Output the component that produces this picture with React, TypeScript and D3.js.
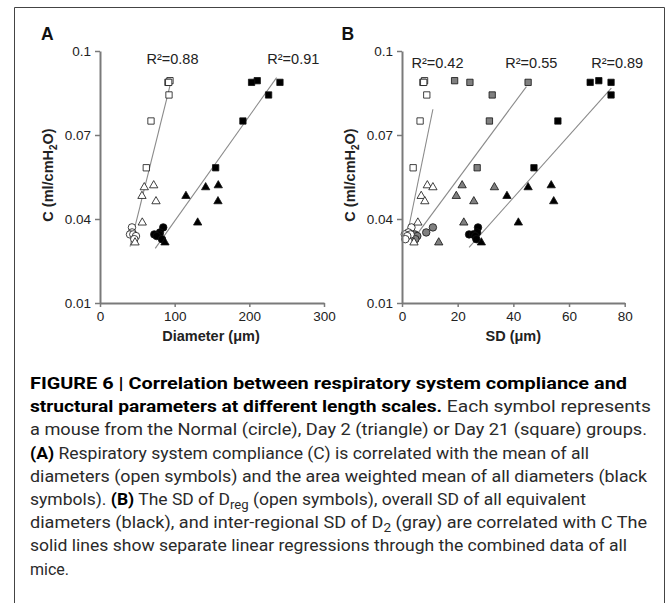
import { useEffect, useRef } from 'react';
import * as d3 from 'd3';

// compliance C (ml/cmH2O) per mouse, one array per group
const cNormal = [0.0370, 0.0352, 0.0345, 0.0345, 0.0339, 0.0328];
const cDay2 = [0.0520, 0.0513, 0.0482, 0.0463, 0.0387, 0.0316];
const cDay21 = [0.0894, 0.0888, 0.0888, 0.0843, 0.0750, 0.0583];

// panel A: mean of all diameters (open) and area weighted mean (black), um
const meanDiamNormal = [42.8, 43.0, 40.2, 44.6, 48.2, 45.9];
const meanDiamDay2 = [71.9, 59.3, 56.2, 75.0, 56.6, 46.9];
const meanDiamDay21 = [93.7, 91.0, 92.0, 92.4, 68.3, 62.0];
const wMeanDiamNormal = [84.7, 80.3, 72.7, 79.4, 76.0, 83.0];
const wMeanDiamDay2 = [158.4, 141.5, 115.1, 158.0, 130.8, 87.0];
const wMeanDiamDay21 = [210.6, 203.0, 241.0, 225.8, 191.4, 154.9];

// panel B: SD of Dreg (open), inter-regional SD of D2 (gray), overall SD (black), um
const sdRegNormal = [3.4, 2.3, 1.0, 3.1, 1.9, 1.2];
const sdRegDay2 = [9.1, 11.1, 6.9, 8.2, 5.7, 4.3];
const sdRegDay21 = [8.1, 7.5, 7.8, 8.9, 6.5, 4.0];
const sdD2Normal = [11.1, 8.7, 4.6, 2.8, 5.5, 4.8];
const sdD2Day2 = [21.6, 33.2, 19.5, 25.8, 22.2, 13.2];
const sdD2Day21 = [18.9, 24.4, 45.3, 32.4, 31.4, 27.0];
const sdAllNormal = [27.3, 27.0, 24.1, 25.5, 26.3, 26.7];
const sdAllDay2 = [53.6, 45.3, 37.7, 54.5, 41.8, 28.5];
const sdAllDay21 = [70.7, 67.6, 75.1, 75.1, 56.0, 47.4];

// regression line end points [x, C]
const fitAOpen = [[40.2, 0.0301], [96.4, 0.0905]];
const fitABlack = [[74, 0.0295], [236.5, 0.0905]];
const fitBOpen = [[1.5, 0.0325], [11.1, 0.0792]];
const fitBGray = [[5.5, 0.0347], [44.7, 0.0873]];
const fitBBlack = [[24.1, 0.0299], [75.2, 0.0867]];

const r2A = ['R²=0.88', 'R²=0.91'];
const r2B = ['R²=0.42', 'R²=0.55', 'R²=0.89'];

const yTicks = [0.01, 0.04, 0.07, 0.1];
const xTicksA = [0, 100, 200, 300];
const xTicksB = [0, 20, 40, 60, 80];

// caption lines: [text, style] segments; style b = bold, sub = subscript
const captionLines: Array<Array<[string, string]>> = [
  [['FIGURE 6 | Correlation between respiratory system compliance and', 'b']],
  [['structural parameters at different length scales.', 'b'], [' Each symbol represents', '']],
  [['a mouse from the Normal (circle), Day 2 (triangle) or Day 21 (square) groups.', '']],
  [['(A)', 'b'], [' Respiratory system compliance (C) is correlated with the mean of all', '']],
  [['diameters (open symbols) and the area weighted mean of all diameters (black', '']],
  [['symbols). ', ''], ['(B)', 'b'], [' The SD of D', ''], ['reg', 'sub'], [' (open symbols), overall SD of all equivalent', '']],
  [['diameters (black), and inter-regional SD of D', ''], ['2', 'sub'], [' (gray) are correlated with C The', '']],
  [['solid lines show separate linear regressions through the combined data of all', '']],
  [['mice.', '']],
];
const captionWidths = [597, 621, 617, 559, 617, 556, 617, 597, 0];

const symbolOf: Record<string, d3.SymbolType> = {
  circle: d3.symbolCircle,
  triangle: d3.symbolTriangle,
  square: d3.symbolSquare,
};
const sizeOf: Record<string, number> = { circle: 44, triangle: 30, square: 40 };

export default function App() {
  const svgRef = useRef<SVGSVGElement>(null);

  useEffect(() => {
    if (!svgRef.current) return;
    const svg = d3.select(svgRef.current);
    svg.selectAll('*').remove();

    // outer frame
    svg.append('path')
      .attr('d', 'M14.5,610 V7.5 H664.5 V610')
      .attr('fill', 'none')
      .attr('stroke', '#444')
      .attr('stroke-width', 1);

    const y = d3.scaleLinear().domain([0.01, 0.1]).range([303, 51]);

    const drawPanel = (
      xScale: d3.ScaleLinear<number, number>,
      xTicks: number[],
      xTitle: string,
      letter: string,
      letterX: number,
      titleX: number,
      series: Array<{ x: number[]; c: number[]; shape: string; fill: string }>,
      fits: number[][][],
      labels: string[],
      labelX: number[],
      labelY: number
    ) => {
      const g = svg.append('g');
      const x0 = xScale.range()[0];

      // fit lines
      const line = d3.line<number[]>().x(d => xScale(d[0])).y(d => y(d[1]));
      fits.forEach(f => {
        g.append('path')
          .attr('d', line(f))
          .attr('fill', 'none')
          .attr('stroke', '#8a8a8a')
          .attr('stroke-width', 1.1);
      });

      // points
      series.forEach(s => {
        g.selectAll(null)
          .data(s.x.map((v, i) => ({ v, c: s.c[i] })))
          .enter().append('path')
          .attr('d', d3.symbol().type(symbolOf[s.shape]).size(sizeOf[s.shape])())
          .attr('transform', d => `translate(${xScale(d.v)},${y(d.c)})`)
          .attr('fill', s.fill)
          .attr('stroke', '#111')
          .attr('stroke-width', 0.8);
      });

      // axes
      const yAxis = g.append('g')
        .attr('transform', `translate(${x0},0)`)
        .call(d3.axisLeft(y).tickValues(yTicks).tickFormat(d => String(d)).tickSize(5).tickSizeOuter(0));
      const xAxis = g.append('g')
        .attr('transform', `translate(0,${y(0.01)})`)
        .call(d3.axisBottom(xScale).tickValues(xTicks).tickFormat(d => String(d)).tickSize(4).tickSizeOuter(0));
      [yAxis, xAxis].forEach(a => {
        a.select('.domain').attr('stroke', '#7a7a7a').attr('stroke-width', 2);
        a.selectAll('.tick line').attr('stroke', '#7a7a7a').attr('stroke-width', 1.5);
        a.selectAll('.tick text')
          .attr('font-family', 'Liberation Sans, Arial, sans-serif')
          .attr('font-size', 13.5)
          .attr('fill', '#222');
      });
      yAxis.selectAll('.tick text').attr('x', -9);
      xAxis.selectAll('.tick text').attr('y', 8);

      // titles
      g.append('text')
        .attr('x', titleX)
        .attr('y', 341)
        .attr('text-anchor', 'middle')
        .attr('font-family', 'Liberation Sans, Arial, sans-serif')
        .attr('font-size', 14.5)
        .attr('font-weight', 'bold')
        .attr('fill', '#222')
        .text(xTitle);

      const yt = g.append('text')
        .attr('transform', `translate(${x0 - 47},175) rotate(-90)`)
        .attr('text-anchor', 'middle')
        .attr('font-family', 'Liberation Sans, Arial, sans-serif')
        .attr('font-size', 14.5)
        .attr('font-weight', 'bold')
        .attr('fill', '#222');
      yt.append('tspan').text('C (ml/cmH');
      yt.append('tspan').attr('font-size', 10).attr('dy', 4).text('2');
      yt.append('tspan').attr('dy', -4).text('O)');

      g.append('text')
        .attr('x', letterX)
        .attr('y', 39.5)
        .attr('font-family', 'Liberation Sans, Arial, sans-serif')
        .attr('font-size', 17.5)
        .attr('font-weight', 'bold')
        .attr('fill', '#111')
        .text(letter);

      labels.forEach((t, i) => {
        g.append('text')
          .attr('x', labelX[i])
          .attr('y', labelY)
          .attr('text-anchor', 'middle')
          .attr('font-family', 'Liberation Sans, Arial, sans-serif')
          .attr('font-size', 14.5)
          .attr('fill', '#222')
          .text(t);
      });
    };

    const xA = d3.scaleLinear().domain([0, 300]).range([100, 324]);
    drawPanel(
      xA, xTicksA, 'Diameter (μm)', 'A', 41, 211,
      [
        { x: meanDiamNormal, c: cNormal, shape: 'circle', fill: '#fff' },
        { x: meanDiamDay2, c: cDay2, shape: 'triangle', fill: '#fff' },
        { x: meanDiamDay21, c: cDay21, shape: 'square', fill: '#fff' },
        { x: wMeanDiamNormal, c: cNormal, shape: 'circle', fill: '#000' },
        { x: wMeanDiamDay2, c: cDay2, shape: 'triangle', fill: '#000' },
        { x: wMeanDiamDay21, c: cDay21, shape: 'square', fill: '#000' },
      ],
      [fitAOpen, fitABlack],
      r2A, [172.5, 293.3], 64
    );

    const xB = d3.scaleLinear().domain([0, 80]).range([402, 624.7]);
    drawPanel(
      xB, xTicksB, 'SD (μm)', 'B', 341.5, 513.3,
      [
        { x: sdAllNormal, c: cNormal, shape: 'circle', fill: '#000' },
        { x: sdAllDay2, c: cDay2, shape: 'triangle', fill: '#000' },
        { x: sdAllDay21, c: cDay21, shape: 'square', fill: '#000' },
        { x: sdD2Normal, c: cNormal, shape: 'circle', fill: '#808080' },
        { x: sdD2Day2, c: cDay2, shape: 'triangle', fill: '#808080' },
        { x: sdD2Day21, c: cDay21, shape: 'square', fill: '#808080' },
        { x: sdRegNormal, c: cNormal, shape: 'circle', fill: '#fff' },
        { x: sdRegDay2, c: cDay2, shape: 'triangle', fill: '#fff' },
        { x: sdRegDay21, c: cDay21, shape: 'square', fill: '#fff' },
      ],
      [fitBOpen, fitBGray, fitBBlack],
      r2B, [437.5, 531.3, 617.2], 68
    );

    // caption
    captionLines.forEach((segs, i) => {
      const t = svg.append('text')
        .attr('x', 30)
        .attr('y', 389 + i * 23.2)
        .attr('font-family', 'Liberation Sans Narrow, Roboto, Arial, sans-serif')
        .attr('font-size', 16)
        .attr('fill', '#2a2a2a');
      if (captionWidths[i] > 0) {
        t.attr('textLength', captionWidths[i]).attr('lengthAdjust', 'spacingAndGlyphs');
      }
      segs.forEach(([s, st], j) => {
        const sp = t.append('tspan').text(s);
        if (st === 'b') sp.attr('font-weight', 'bold').attr('fill', '#000');
        if (st === 'sub') sp.attr('font-size', 12).attr('dy', 4);
        if (j > 0 && segs[j - 1][1] === 'sub') sp.attr('dy', -4);
      });
    });
  }, []);

  return (
    <svg
      ref={svgRef}
      width={671}
      height={603}
      style={{ position: 'absolute', left: 0, top: 0, background: '#fff' }}
    />
  );
}
